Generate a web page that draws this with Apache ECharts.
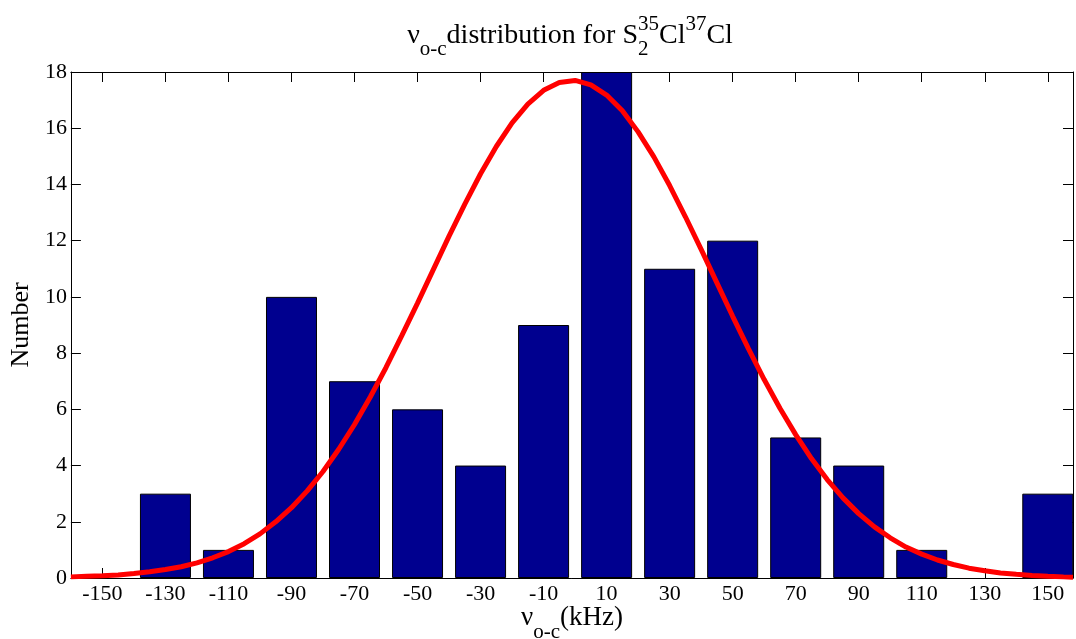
<!DOCTYPE html>
<html>
<head>
<meta charset="utf-8">
<script src="https://cdn.jsdelivr.net/npm/echarts@6/dist/echarts.min.js"></script>
<style>
  html, body { margin: 0; padding: 0; background: #fff; }
  #chart { width: 1076px; height: 639px; }
</style>
</head>
<body>
<div id="chart"></div>
<script>
// ---- data ----
const binCenters = [-150, -130, -110, -90, -70, -50, -30, -10, 10, 30, 50, 70, 90, 110, 130, 150];
const binCounts  = [0, 3, 1, 10, 7, 6, 4, 9, 18, 11, 12, 5, 4, 1, 0, 3];
const xTickValues = [-150, -130, -110, -90, -70, -50, -30, -10, 10, 30, 50, 70, 90, 110, 130, 150];
const yTickValues = [0, 2, 4, 6, 8, 10, 12, 14, 16, 18];
// fitted curve
const curveX = [-160, -155, -150, -145, -140, -135, -130, -125, -120, -115, -110, -105, -100, -95, -90, -85, -80, -75, -70, -65, -60, -55, -50, -45, -40, -35, -30, -25, -20, -15, -10, -5, 0, 5, 10, 15, 20, 25, 30, 35, 40, 45, 50, 55, 60, 65, 70, 75, 80, 85, 90, 95, 100, 105, 110, 115, 120, 125, 130, 135, 140, 145, 150, 155, 158];
const curveY = [0.04, 0.06, 0.08, 0.11, 0.16, 0.22, 0.30, 0.40, 0.54, 0.72, 0.94, 1.22, 1.57, 2.00, 2.50, 3.10, 3.79, 4.58, 5.46, 6.44, 7.49, 8.62, 9.78, 10.97, 12.16, 13.30, 14.38, 15.35, 16.19, 16.86, 17.35, 17.63, 17.70, 17.54, 17.18, 16.62, 15.87, 14.98, 13.96, 12.85, 11.69, 10.50, 9.31, 8.16, 7.06, 6.04, 5.10, 4.25, 3.50, 2.85, 2.29, 1.82, 1.43, 1.10, 0.85, 0.64, 0.48, 0.35, 0.26, 0.18, 0.13, 0.09, 0.06, 0.04, 0.03];

const FONT = '"Liberation Serif", "Times New Roman", serif';

const chart = echarts.init(document.getElementById('chart'), null, { renderer: 'canvas' });

// --- helper to lay out text with sub/superscripts as graphic elements ---
const mctx = document.createElement('canvas').getContext('2d');
function tw(t, fs) { mctx.font = fs + 'px ' + FONT; return mctx.measureText(t).width; }
function richLine(pieces, cx, baseline, mainFs, smallFs, subDy, supDy) {
  const sz = s => (s === 'm' ? mainFs : smallFs);
  const dy = s => (s === 'sub' ? subDy : (s === 'sup' ? supDy : 0));
  const widths = pieces.map(p => p.stack ? Math.max(...p.stack.map(q => tw(q.t, sz(q.s)))) : tw(p.t, sz(p.s)));
  const total = widths.reduce((a, b) => a + b, 0);
  let x = cx - total / 2;
  const els = [];
  pieces.forEach((p, i) => {
    const parts = p.stack ? p.stack : [p];
    parts.forEach(q => {
      const fs = sz(q.s);
      els.push({
        type: 'text', x: x, y: baseline + dy(q.s) - 0.3375 * fs, silent: true,
        style: { text: q.t, font: fs + 'px ' + FONT, fill: '#000', align: 'left', verticalAlign: 'middle' }
      });
    });
    x += widths[i];
  });
  return els;
}

const titleEls = richLine([
  { t: 'ν', s: 'm' }, { t: 'o-c', s: 'sub' }, { t: 'distribution for S', s: 'm' },
  { stack: [{ t: '2', s: 'sub' }, { t: '35', s: 'sup' }] },
  { t: 'Cl', s: 'm' }, { t: '37', s: 'sup' }, { t: 'Cl', s: 'm' }
], 570, 45, 28, 21, 12, -13);

const xNameEls = richLine([
  { t: 'ν', s: 'm' }, { t: 'o-c', s: 'sub' }, { t: '(kHz)', s: 'm' }
], 572, 627, 27, 21, 13, -13);

const axisLineStyle = { color: '#000', width: 1 };
const tickStyle = { color: '#000', width: 1 };

const option = {
  backgroundColor: '#fff',
  animation: false,
  grid: { left: 67, right: 3, top: 72, bottom: 61, containLabel: false },
  xAxis: [
    {
      type: 'value', min: -160, max: 158, position: 'bottom',
      axisLine: { show: true, onZero: false, lineStyle: axisLineStyle },
      axisTick: { show: true, inside: true, length: 10, lineStyle: tickStyle, customValues: xTickValues },
      axisLabel: { show: true, customValues: xTickValues, fontFamily: FONT, fontSize: 22, color: '#000', margin: 5 },
      splitLine: { show: false }
    },
    {
      type: 'value', min: -160, max: 158, position: 'top',
      axisLine: { show: true, onZero: false, lineStyle: axisLineStyle },
      axisTick: { show: true, inside: true, length: 10, lineStyle: tickStyle, customValues: xTickValues },
      axisLabel: { show: false },
      splitLine: { show: false }
    }
  ],
  yAxis: [
    {
      type: 'value', min: 0, max: 18, interval: 2, position: 'left',
      name: 'Number', nameLocation: 'middle', nameGap: 29, nameRotate: 90,
      nameTextStyle: { fontFamily: FONT, fontSize: 26, color: '#000' },
      axisLine: { show: true, onZero: false, lineStyle: axisLineStyle },
      axisTick: { show: true, inside: true, length: 10, lineStyle: tickStyle, customValues: yTickValues },
      axisLabel: { show: true, customValues: yTickValues, fontFamily: FONT, fontSize: 22, color: '#000', margin: 4 },
      splitLine: { show: false }
    },
    {
      type: 'value', min: 0, max: 18, interval: 2, position: 'right',
      axisLine: { show: true, onZero: false, lineStyle: axisLineStyle },
      axisTick: { show: true, inside: true, length: 10, lineStyle: tickStyle, customValues: yTickValues },
      axisLabel: { show: false },
      splitLine: { show: false }
    }
  ],
  series: [
    {
      type: 'bar', xAxisIndex: 0, yAxisIndex: 0,
      data: binCenters.map((c, i) => (binCounts[i] > 0 ? [c, binCounts[i]] : [c, '-'])),
      barWidth: 51,
      itemStyle: { color: '#00008F', borderColor: '#000', borderWidth: 1 },
      z: 2
    },
    {
      type: 'line', xAxisIndex: 0, yAxisIndex: 0,
      data: curveX.map((x, i) => [x, curveY[i]]),
      showSymbol: false, symbol: 'none', smooth: false,
      lineStyle: { color: '#FF0000', width: 5 },
      z: 3
    }
  ],
  graphic: titleEls.concat(xNameEls)
};

chart.setOption(option);
</script>
</body>
</html>
